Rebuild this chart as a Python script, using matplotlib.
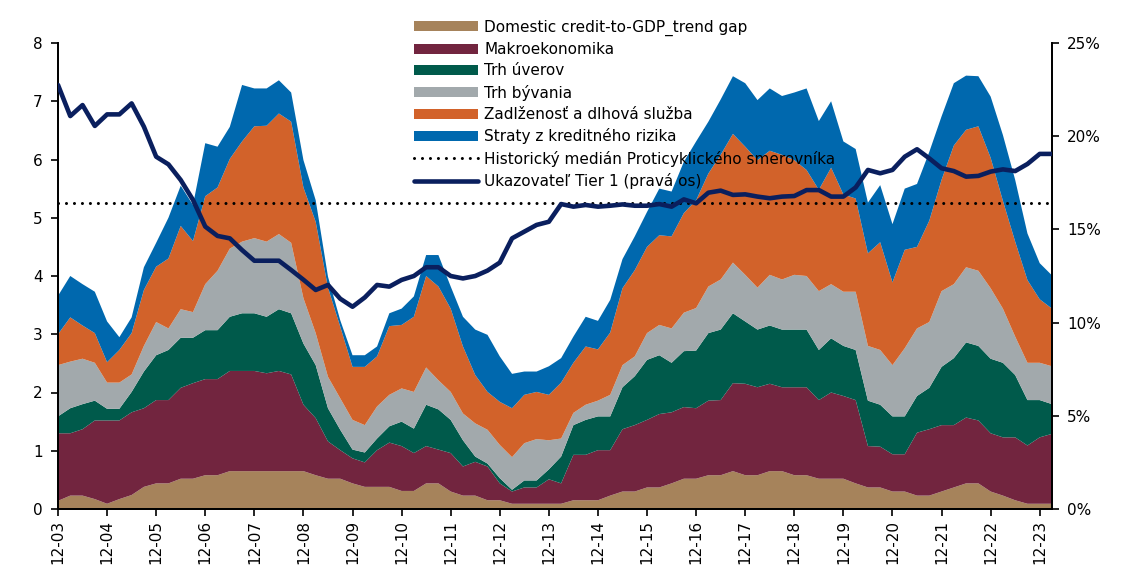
import numpy as np
import matplotlib
matplotlib.use("Agg")
import matplotlib.pyplot as plt
from matplotlib.ticker import FuncFormatter

plt.rcParams['font.family'] = ['DejaVu Sans']

# Quarterly observations from 12-03 to 03-24 (82 quarters)
year_labels = ["12-03", "12-04", "12-05", "12-06", "12-07", "12-08", "12-09",
               "12-10", "12-11", "12-12", "12-13", "12-14", "12-15", "12-16",
               "12-17", "12-18", "12-19", "12-20", "12-21", "12-22", "12-23"]

credit_gap = [0.14, 0.23, 0.23, 0.17, 0.09, 0.17, 0.24, 0.38, 0.44, 0.44,
              0.52, 0.52, 0.58, 0.58, 0.65, 0.65, 0.65, 0.65, 0.65, 0.65,
              0.65, 0.58, 0.52, 0.52, 0.44, 0.38, 0.38, 0.38, 0.31, 0.31,
              0.44, 0.44, 0.30, 0.23, 0.23, 0.15, 0.15, 0.09, 0.09, 0.09,
              0.09, 0.09, 0.15, 0.15, 0.15, 0.23, 0.30, 0.30, 0.37, 0.37,
              0.44, 0.52, 0.52, 0.58, 0.58, 0.65, 0.58, 0.58, 0.65, 0.65,
              0.58, 0.58, 0.52, 0.52, 0.52, 0.44, 0.37, 0.37, 0.30, 0.30,
              0.23, 0.23, 0.30, 0.37, 0.44, 0.44, 0.30, 0.23, 0.15, 0.09,
              0.09, 0.09]

makro = [1.16, 1.07, 1.14, 1.35, 1.43, 1.35, 1.42, 1.35, 1.43, 1.43,
         1.56, 1.64, 1.65, 1.65, 1.72, 1.72, 1.72, 1.68, 1.72, 1.66,
         1.14, 0.98, 0.64, 0.49, 0.43, 0.42, 0.63, 0.76, 0.77, 0.65,
         0.64, 0.58, 0.66, 0.50, 0.58, 0.58, 0.29, 0.21, 0.28, 0.28,
         0.42, 0.35, 0.78, 0.78, 0.86, 0.78, 1.07, 1.14, 1.16, 1.26,
         1.22, 1.23, 1.21, 1.28, 1.29, 1.51, 1.57, 1.51, 1.50, 1.44,
         1.51, 1.51, 1.35, 1.48, 1.42, 1.43, 0.71, 0.70, 0.64, 0.64,
         1.08, 1.14, 1.14, 1.07, 1.13, 1.08, 1.00, 1.00, 1.08, 1.00,
         1.14, 1.20]

trh_uverov = [0.29, 0.43, 0.43, 0.34, 0.20, 0.20, 0.35, 0.63, 0.77, 0.86,
              0.86, 0.78, 0.84, 0.84, 0.93, 0.99, 0.99, 0.97, 1.06, 1.05,
              1.05, 0.91, 0.57, 0.35, 0.15, 0.17, 0.20, 0.28, 0.42, 0.42,
              0.71, 0.69, 0.57, 0.45, 0.09, 0.05, 0.09, 0.03, 0.12, 0.12,
              0.17, 0.46, 0.51, 0.60, 0.58, 0.58, 0.72, 0.84, 1.03, 1.01,
              0.85, 0.96, 0.99, 1.16, 1.21, 1.20, 1.07, 0.99, 1.00, 0.99,
              0.99, 0.99, 0.86, 0.93, 0.86, 0.86, 0.78, 0.72, 0.65, 0.65,
              0.63, 0.71, 1.00, 1.15, 1.29, 1.28, 1.28, 1.28, 1.07, 0.78,
              0.64, 0.51]

trh_byvania = [0.88, 0.80, 0.78, 0.65, 0.45, 0.45, 0.30, 0.44, 0.57, 0.37,
               0.49, 0.44, 0.79, 1.02, 1.17, 1.23, 1.29, 1.29, 1.29, 1.21,
               0.78, 0.55, 0.54, 0.54, 0.51, 0.47, 0.55, 0.54, 0.57, 0.63,
               0.64, 0.50, 0.48, 0.46, 0.57, 0.58, 0.57, 0.56, 0.64, 0.71,
               0.50, 0.31, 0.21, 0.26, 0.27, 0.37, 0.38, 0.34, 0.46, 0.52,
               0.59, 0.66, 0.73, 0.80, 0.86, 0.87, 0.80, 0.72, 0.87, 0.86,
               0.94, 0.92, 1.01, 0.93, 0.93, 1.00, 0.94, 0.94, 0.88, 1.17,
               1.16, 1.13, 1.30, 1.27, 1.29, 1.29, 1.21, 0.93, 0.66, 0.64,
               0.64, 0.65]

zadlzenost = [0.53, 0.76, 0.57, 0.51, 0.35, 0.56, 0.71, 0.96, 0.95, 1.20,
              1.43, 1.22, 1.51, 1.43, 1.54, 1.72, 1.92, 1.99, 2.07, 2.08,
              1.90, 1.91, 1.53, 1.23, 0.91, 1.00, 0.86, 1.18, 1.09, 1.29,
              1.57, 1.61, 1.43, 1.15, 0.83, 0.65, 0.74, 0.84, 0.83, 0.81,
              0.78, 0.96, 0.86, 1.00, 0.88, 1.07, 1.32, 1.48, 1.48, 1.54,
              1.58, 1.71, 1.85, 1.94, 2.14, 2.21, 2.20, 2.19, 2.13, 2.14,
              1.97, 1.82, 1.74, 2.00, 1.67, 1.60, 1.59, 1.85, 1.42, 1.69,
              1.40, 1.74, 1.91, 2.38, 2.36, 2.48, 2.24, 1.85, 1.63, 1.42,
              1.09, 0.99]

straty = [0.66, 0.71, 0.71, 0.71, 0.70, 0.22, 0.27, 0.39, 0.41, 0.70,
          0.69, 0.62, 0.91, 0.70, 0.55, 0.97, 0.65, 0.64, 0.57, 0.50,
          0.47, 0.37, 0.19, 0.11, 0.20, 0.20, 0.17, 0.22, 0.28, 0.35,
          0.36, 0.54, 0.38, 0.51, 0.78, 0.98, 0.78, 0.59, 0.40, 0.35,
          0.49, 0.42, 0.45, 0.51, 0.49, 0.56, 0.50, 0.58, 0.60, 0.80,
          0.77, 0.88, 1.01, 0.89, 0.95, 0.99, 1.09, 1.03, 1.07, 1.01,
          1.16, 1.40, 1.18, 1.14, 0.91, 0.85, 0.87, 0.98, 1.00, 1.05,
          1.08, 1.18, 1.09, 1.07, 0.93, 0.86, 1.05, 1.13, 1.06, 0.80,
          0.62, 0.57]

historicky_median = 5.25

tier1 = [22.75, 21.08, 21.67, 20.55, 21.17, 21.17, 21.76, 20.51, 18.90, 18.49,
         17.65, 16.58, 15.15, 14.65, 14.52, 13.89, 13.32, 13.32, 13.32, 12.82,
         12.30, 11.75, 12.02, 11.28, 10.85, 11.35, 12.02, 11.93, 12.29, 12.50,
         12.97, 12.97, 12.50, 12.37, 12.50, 12.79, 13.22, 14.52, 14.88, 15.24,
         15.41, 16.36, 16.22, 16.31, 16.22, 16.27, 16.34, 16.27, 16.27, 16.36,
         16.22, 16.61, 16.40, 16.97, 17.08, 16.85, 16.88, 16.76, 16.67, 16.76,
         16.79, 17.11, 17.11, 16.76, 16.76, 17.25, 18.19, 18.01, 18.19, 18.90,
         19.30, 18.81, 18.28, 18.13, 17.83, 17.87, 18.10, 18.22, 18.13, 18.51,
         19.05, 19.05]

series_names = ["Domestic credit-to-GDP_trend gap", "Makroekonomika", "Trh úverov",
                "Trh bývania", "Zadlženosť a dlhová služba", "Straty z kreditného rizika"]
colors = ["#A6835B", "#72253F", "#005A4B", "#A2A9AC", "#D2622A", "#0068AE"]
median_label = "Historický medián Proticyklického smerovníka"
tier_label = "Ukazovateľ Tier 1 (pravá os)"

x = np.arange(len(tier1))

fig = plt.figure(figsize=(11.33, 5.71), dpi=100)
ax = fig.add_axes([58 / 1133, 1 - 509 / 571, (1052 - 58) / 1133, (509 - 43) / 571])

polys = ax.stackplot(x, credit_gap, makro, trh_uverov, trh_byvania, zadlzenost, straty,
                     colors=colors, labels=series_names, linewidth=0)
med_line, = ax.plot([x[0], x[-1]], [historicky_median, historicky_median], color="black",
                    linewidth=2.2, linestyle=(0, (0.01, 2.6)), dash_capstyle="round",
                    label=median_label, zorder=5)

ax.set_xlim(x[0], x[-1])
ax.set_ylim(0, 8)
ax.set_yticks(range(0, 9))
ax.set_xticks(np.arange(0, len(x), 4)[:len(year_labels)])
ax.set_xticklabels(year_labels, rotation=90)

ax2 = ax.twinx()
tier_line, = ax2.plot(x, tier1, color="#0A1F5E", linewidth=3.3, label=tier_label,
                      solid_joinstyle="round", solid_capstyle="round", zorder=6)
ax2.set_ylim(0, 25)
ax2.set_yticks(range(0, 26, 5))
ax2.yaxis.set_major_formatter(FuncFormatter(lambda v, p: f"{v:.0f}%"))

for a in (ax, ax2):
    a.spines["top"].set_visible(False)
    for s in ("left", "right", "bottom"):
        a.spines[s].set_linewidth(1.3)
        a.spines[s].set_color("black")
    a.tick_params(axis="both", direction="out", length=5, width=1.2, labelsize=11,
                  colors="black")
ax.tick_params(axis="x", pad=3)
ax.tick_params(axis="y", pad=6)
ax2.tick_params(axis="y", pad=6)

handles = list(polys) + [med_line, tier_line]
labels = series_names + [median_label, tier_label]
leg = ax2.legend(handles, labels, loc="upper left",
                 bbox_to_anchor=(400 / 1133, 1 - 6 / 571),
                 bbox_transform=fig.transFigure, frameon=False, fontsize=11,
                 handlelength=4.2, handleheight=0.65, handletextpad=0.4,
                 labelspacing=0.41, borderpad=0.4)

fig.savefig("out.png", dpi=100)
